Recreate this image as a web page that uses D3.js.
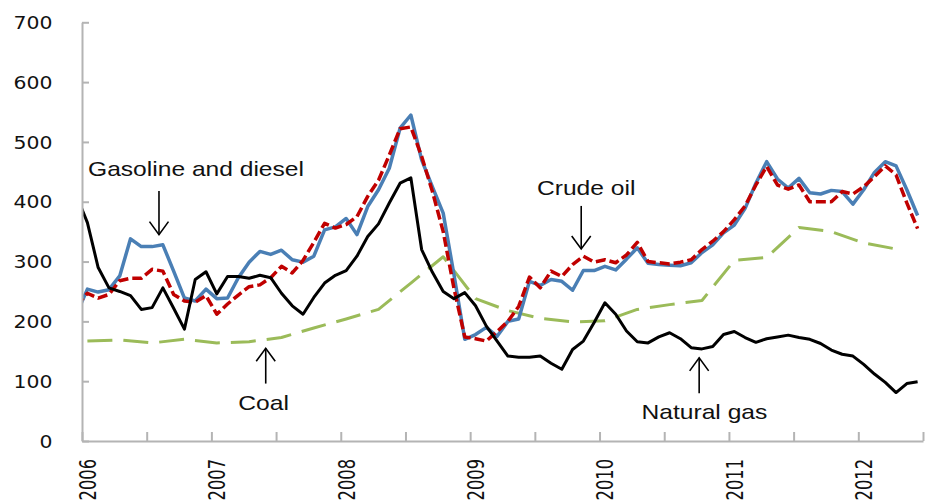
<!DOCTYPE html>
<html>
<head>
<meta charset="utf-8">
<script src="https://cdn.jsdelivr.net/npm/d3@7"></script>
<style>
  body { margin: 0; background: #fff; }
  svg { display: block; }
</style>
</head>
<body>
<div id="chart"></div>
<script>
// monthly index values, first entry is Dec 2005 (cut off by the axis), then Jan 2006 .. Jun 2012
const crudeOil = [212,
  254, 249, 253, 276, 338, 325, 325, 328, 284, 239, 234, 254,
  238, 239, 273, 299, 317, 312, 319, 303, 299, 309, 353, 358,
  372, 345, 392, 420, 456, 523, 545, 470, 425, 381, 278, 170,
  178, 190, 175, 200, 204, 267, 260, 270, 267, 252, 285, 285,
  292, 286, 304, 323, 297, 295, 294, 293, 298, 315, 328, 348,
  361, 389, 431, 467, 438, 423, 439, 415, 413, 419, 417, 396,
  420, 449, 467, 460, 420, 377]

const gasDiesel = [226,
  247, 239, 245, 268, 272, 272, 287, 284, 245, 234, 232, 243,
  212, 229, 244, 258, 261, 273, 292, 281, 302, 332, 364, 356,
  362, 375, 409, 436, 478, 522, 525, 476, 417, 350, 255, 174,
  171, 167, 183, 200, 225, 274, 256, 284, 275, 295, 309, 299,
  303, 298, 311, 332, 300, 298, 296, 299, 303, 320, 334, 350,
  370, 393, 428, 459, 428, 421, 428, 400, 400, 400, 417, 413,
  425, 442, 460, 445, 398, 355]

const naturalGas = [410,
  365, 290, 256, 250, 243, 220, 223, 256, 222, 187, 270, 283,
  246, 275, 275, 272, 277, 273, 247, 226, 212, 240, 264, 277,
  285, 309, 342, 363, 398, 431, 440, 320, 282, 250, 238, 248,
  226, 192, 167, 142, 140, 140, 142, 130, 120, 153, 167, 198,
  231, 212, 184, 166, 164, 174, 181, 171, 156, 154, 158, 178,
  183, 173, 165, 171, 174, 177, 173, 170, 163, 152, 145, 142,
  128, 112, 98, 81, 96, 99]

// coal is quarterly: Jan, Apr, Jul, Oct of each year, 2006 .. Apr 2012
const coal = [167, 169, 164, 170, 164, 166, 173, 189, 204, 220, 264, 308, 238,
  218, 205, 199, 201, 220, 228, 235, 302, 307, 357, 350, 331, 321]

const years = ['2006', '2007', '2008', '2009', '2010', '2011', '2012']
const yTicks = [0, 100, 200, 300, 400, 500, 600, 700]

// labels with arrows, in chart units (month index, value)
const notes = [
  { text: 'Gasoline and diesel', tx: 0.56, ty: 443, ax: 7.14, from: 418, to: 345 },
  { text: 'Crude oil', tx: 42.2, ty: 411, ax: 46.3, from: 393, to: 321 },
  { text: 'Coal', tx: 14.5, ty: 51, ax: 17.04, from: 96, to: 155 },
  { text: 'Natural gas', tx: 51.9, ty: 37, ax: 57.24, from: 80, to: 139 }
]

const WIDTH = 925
const HEIGHT = 502
const STRETCH = 1.2 // the picture is a bit wider than tall

const svg = d3.select('#chart').append('svg')
  .attr('width', WIDTH)
  .attr('height', HEIGHT)

const x = d3.scaleLinear().domain([0, 78]).range([82, 923])
const y = d3.scaleLinear().domain([0, 700]).range([441, 22.3])

svg.append('clipPath').attr('id', 'plot')
  .append('rect')
  .attr('x', x(0)).attr('y', 0)
  .attr('width', x(78) - x(0)).attr('height', HEIGHT)

// monthly points sit in the middle of each month, the first one is Dec 2005
const monthly = arr => arr.map((v, i) => [i - 0.5, v])
const quarterly = arr => arr.map((v, i) => [i * 3 + 0.5, v])

const line = d3.line()
  .x(d => x(d[0]))
  .y(d => y(d[1]))

const series = [
  { data: quarterly(coal), color: '#9bbb59', width: 3, dash: '25,11' },
  { data: monthly(crudeOil), color: '#4a7fb5', width: 3.5, dash: null },
  { data: monthly(gasDiesel), color: '#c00000', width: 3.5, dash: '10,4' },
  { data: monthly(naturalGas), color: '#000', width: 3, dash: null }
]

const g = svg.append('g').attr('clip-path', 'url(#plot)')
g.selectAll('path')
  .data(series)
  .enter()
  .append('path')
  .attr('d', d => line(d.data))
  .attr('fill', 'none')
  .attr('stroke', d => d.color)
  .attr('stroke-width', d => d.width)
  .attr('stroke-dasharray', d => d.dash)
  .attr('stroke-linejoin', 'round')

// axes
const yAxis = svg.append('g')
  .attr('transform', `translate(${x(0)},0)`)
  .call(d3.axisLeft(y).tickValues(yTicks).tickSizeInner(-7).tickSizeOuter(0).tickPadding(29.5))
const xAxis = svg.append('g')
  .attr('transform', `translate(0,${y(0)})`)
  .call(d3.axisBottom(x).tickValues(d3.range(0, 79, 6)).tickSizeInner(-9).tickSizeOuter(0).tickFormat(''))

svg.selectAll('.domain, .tick line')
  .attr('stroke', '#b4b4b4')
  .attr('stroke-width', 2)

yAxis.selectAll('.tick text')
  .attr('x', null)
  .attr('dy', '0.36em')
  .attr('transform', `translate(-29.5,0) scale(${STRETCH},1)`)
  .attr('font-family', 'DejaVu Sans')
  .attr('font-size', 17)
  .attr('fill', '#111')

// year labels, turned and centred on the January of each year
svg.append('g').selectAll('text')
  .data(years)
  .enter()
  .append('text')
  .attr('transform', (d, i) => `translate(${x(i * 12 + 0.5)},459) scale(1.45,1) rotate(-90)`)
  .attr('dy', '0.36em')
  .attr('text-anchor', 'end')
  .attr('font-family', 'DejaVu Sans')
  .attr('font-size', 16.3)
  .attr('fill', '#111')
  .text(d => d)

// annotations
const ann = svg.append('g')
ann.selectAll('text')
  .data(notes)
  .enter()
  .append('text')
  .attr('transform', d => `translate(${x(d.tx)},${y(d.ty)}) scale(${STRETCH},1)`)
  .attr('font-family', 'Liberation Sans, Arial, sans-serif')
  .attr('font-size', 20.5)
  .attr('fill', '#111')
  .text(d => d.text)

notes.forEach(d => {
  const ax = x(d.ax)
  const y1 = y(d.from)
  const y2 = y(d.to)
  const dir = y2 > y1 ? -1 : 1 // head points down or up
  ann.append('line')
    .attr('x1', ax).attr('x2', ax)
    .attr('y1', y1).attr('y2', y2)
    .attr('stroke', '#000').attr('stroke-width', 1.6)
  ann.append('path')
    .attr('d', `M${ax - 9.5},${y2 + dir * 13}L${ax},${y2}L${ax + 9.5},${y2 + dir * 13}`)
    .attr('fill', 'none')
    .attr('stroke', '#000').attr('stroke-width', 1.6)
})
</script>
</body>
</html>
